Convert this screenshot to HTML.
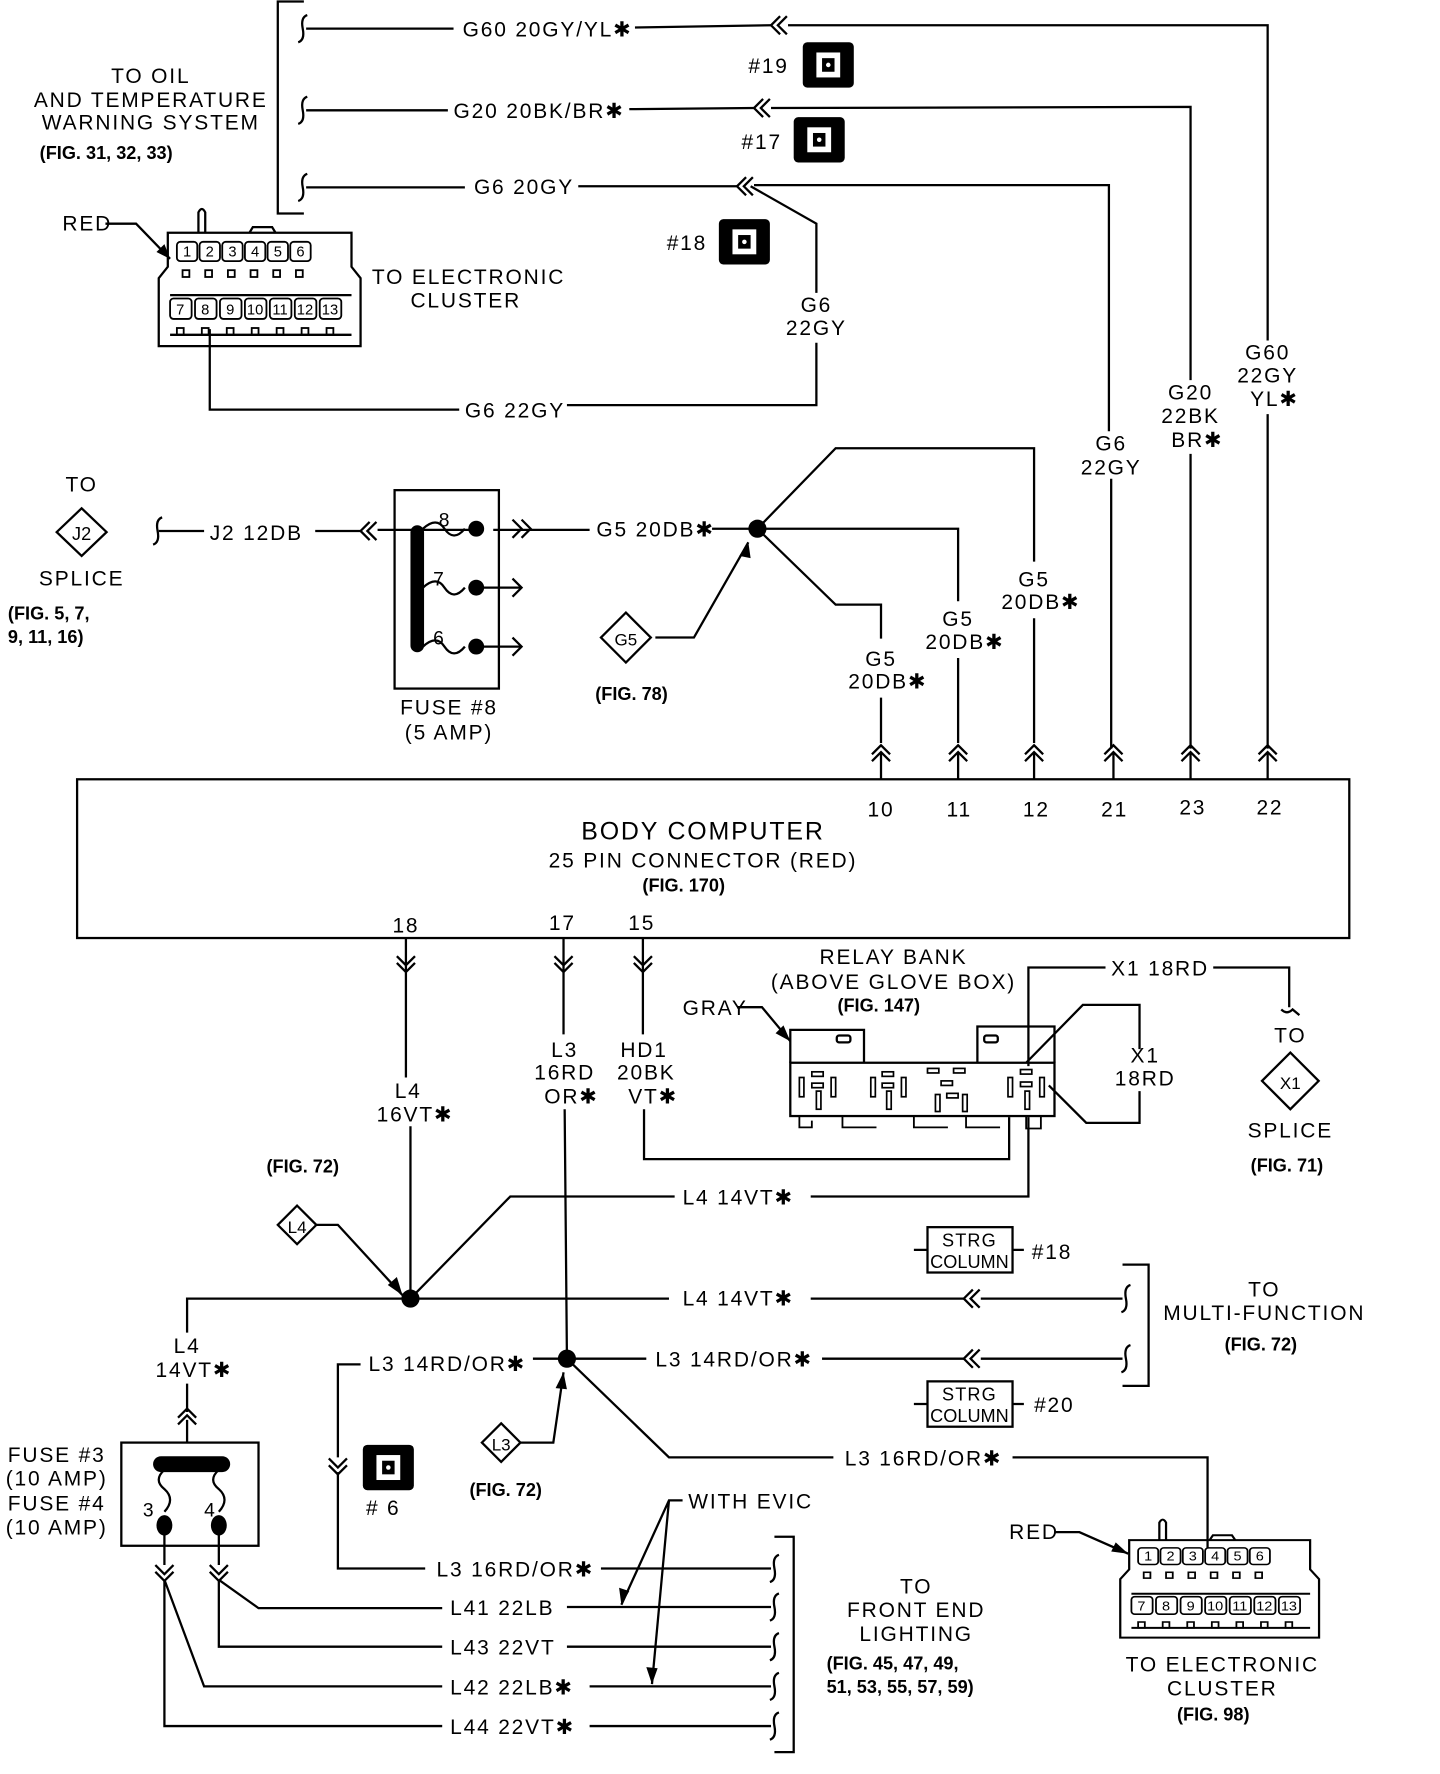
<!DOCTYPE html>
<html><head><meta charset="utf-8"><style>
html,body{margin:0;padding:0;background:#fff;}
svg{display:block;}
.t{font-family:"Liberation Sans Narrow","Liberation Sans",sans-serif;font-size:18.5px;letter-spacing:1.6px;fill:#000;}
.b{font-family:"Liberation Sans",sans-serif;font-size:16px;font-weight:bold;fill:#000;}
.s{font-family:"Liberation Sans Narrow","Liberation Sans",sans-serif;font-size:13px;fill:#000;}
</style></head><body>
<svg width="1440" height="1774" viewBox="0 0 1270 1564" xmlns="http://www.w3.org/2000/svg">
<defs>
<path id="cl" d="M8,-8 L0,0 L8,8 M14,-8 L6,0 L14,8" fill="none" stroke="#000" stroke-width="2"/>
<path id="cr" d="M-8,-8 L0,0 L-8,8 M-14,-8 L-6,0 L-14,8" fill="none" stroke="#000" stroke-width="2"/>
<path id="cu" d="M-8,8 L0,0 L8,8 M-8,14 L0,6 L8,14" fill="none" stroke="#000" stroke-width="2"/>
<path id="cd" d="M-8,-8 L0,0 L8,-8 M-8,-14 L0,-6 L8,-14" fill="none" stroke="#000" stroke-width="2"/>
<path id="sq" d="M4,-12 Q-2,-10 0,0 Q2,10 -4,12" fill="none" stroke="#000" stroke-width="2"/>
<g id="ico"><rect x="0" y="0" width="45" height="40" rx="4" fill="#000"/><rect x="12" y="9" width="21" height="22" fill="#fff"/><rect x="17" y="14" width="11" height="12" fill="#000"/><circle cx="22.5" cy="20" r="2" fill="#fff"/></g>
<g id="clu" fill="none" stroke="#000" stroke-width="2">
<path d="M0,100 L0,40 L8,30 L8,0 L170,0 L170,30 L178,40 L178,100 Z"/>
<path d="M35,0 L35,-18 Q38,-24 41,-18 L41,0"/>
<path d="M80,0 L83,-5 L100,-5 L103,0"/>
<path d="M10,55 L170,55 M10,90 L170,90"/>
<g stroke-width="1.6">
<rect x="16" y="8" width="18" height="17" rx="3"/><rect x="36" y="8" width="18" height="17" rx="3"/><rect x="56" y="8" width="18" height="17" rx="3"/><rect x="76" y="8" width="18" height="17" rx="3"/><rect x="96" y="8" width="18" height="17" rx="3"/><rect x="116" y="8" width="18" height="17" rx="3"/>
<rect x="10" y="58" width="19" height="18" rx="3"/><rect x="32" y="58" width="19" height="18" rx="3"/><rect x="54" y="58" width="19" height="18" rx="3"/><rect x="76" y="58" width="19" height="18" rx="3"/><rect x="98" y="58" width="19" height="18" rx="3"/><rect x="120" y="58" width="19" height="18" rx="3"/><rect x="142" y="58" width="19" height="18" rx="3"/>
<rect x="21" y="33" width="6" height="6"/><rect x="41" y="33" width="6" height="6"/><rect x="61" y="33" width="6" height="6"/><rect x="81" y="33" width="6" height="6"/><rect x="101" y="33" width="6" height="6"/><rect x="121" y="33" width="6" height="6"/>
<rect x="16" y="84" width="6" height="6"/><rect x="38" y="84" width="6" height="6"/><rect x="60" y="84" width="6" height="6"/><rect x="82" y="84" width="6" height="6"/><rect x="104" y="84" width="6" height="6"/><rect x="126" y="84" width="6" height="6"/><rect x="148" y="84" width="6" height="6"/>
</g>
<g class="s" stroke="none" fill="#000" text-anchor="middle" font-size="12">
<text x="25" y="21">1</text><text x="45" y="21">2</text><text x="65" y="21">3</text><text x="85" y="21">4</text><text x="105" y="21">5</text><text x="125" y="21">6</text>
<text x="19" y="72">7</text><text x="41" y="72">8</text><text x="63" y="72">9</text><text x="85" y="72">10</text><text x="107" y="72">11</text><text x="129" y="72">12</text><text x="151" y="72">13</text>
</g>
</g>
</defs>

<g fill="none" stroke="#000" stroke-width="2">
<path d="M268,1 L245,1 L245,188 L268,188"/>
<path d="M270,25 L400,25 M560,24 L680,22 M695,22 L1118,22 L1118,300 M1118,365 L1118,660"/>
<path d="M270,97 L395,97 M555,96 L665,95 M680,95 L1050,94 L1050,335 M1050,400 L1050,660"/>
<path d="M270,165 L410,165 M510,164 L650,164 M665,163 L978,163 L978,380 M980,422 L980,660"/>
<path d="M662,164 L720,197 L720,258 M720,302 L720,357 L500,357 M405,361 L185,361 L185,290"/>
<path d="M93,197 L120,197 L150,228"/>
<path d="M140,468 L180,468 M278,468 L318,468 M333,467 L420,467 M435,467 L520,467 M628,466 L668,466"/>
<rect x="348" y="432" width="92" height="175"/>
<path d="M420,518 L460,518 M420,570 L460,570"/>
<path d="M452,458 L460,466 L452,474 M460,458 L468,466 L460,474 M452,510 L460,518 L452,526 M452,562 L460,570 L452,578"/>
<path d="M373,466 Q385,455 392,466 Q400,478 410,466 M373,518 Q385,507 392,518 Q400,530 410,518 M373,570 Q385,559 392,570 Q400,582 410,570"/>
<path d="M668,466 L737,395 L912,395 L912,495 M912,545 L912,655"/>
<path d="M668,466 L845,466 L845,530 M845,580 L845,655"/>
<path d="M668,466 L737,533 L777,533 L777,563 M777,615 L777,655"/>
<path d="M578,562 L612,562 L660,478"/>
<path d="M777,663 L777,687 M845,663 L845,687 M912,663 L912,687 M982,663 L982,687 M1050,663 L1050,687 M1118,663 L1118,687"/>
<rect x="68" y="687" width="1122" height="140"/>
<path d="M358,827 L358,950 M362,993 L362,1145"/>
<path d="M497,827 L497,912 M498,978 L500,1198"/>
<path d="M567,827 L567,912 M568,978 L568,1022 L890,1022 L890,985"/>
<path d="M697,937 L697,908 L762,908 L762,937 M862,937 L862,905 L930,905 L930,937"/>
<rect x="697" y="937" width="233" height="47"/>
<rect x="738" y="913" width="12" height="6" rx="2"/><rect x="868" y="913" width="12" height="6" rx="2"/>
<path d="M705,984 L705,994 L716,994 L716,988 M743,984 L743,994 L773,994 M806,984 L806,994 L836,994 M852,984 L852,994 L882,994 M905,984 L905,995 L918,995 L918,984" stroke-width="1.6"/>
<g stroke-width="1.5">
<rect x="705" y="950" width="4" height="17"/><rect x="716" y="945" width="10" height="4"/><rect x="716" y="955" width="10" height="4"/><rect x="720" y="962" width="4" height="16"/><rect x="733" y="950" width="4" height="17"/>
<rect x="768" y="950" width="4" height="17"/><rect x="778" y="945" width="10" height="4"/><rect x="778" y="955" width="10" height="4"/><rect x="782" y="962" width="4" height="16"/><rect x="795" y="950" width="4" height="17"/>
<rect x="818" y="942" width="10" height="4"/><rect x="841" y="942" width="10" height="4"/><rect x="830" y="953" width="10" height="4"/><rect x="825" y="965" width="4" height="15"/><rect x="835" y="964" width="10" height="4"/><rect x="849" y="965" width="4" height="15"/>
<rect x="900" y="943" width="10" height="4"/><rect x="889" y="950" width="4" height="17"/><rect x="900" y="954" width="10" height="4"/><rect x="904" y="962" width="4" height="16"/><rect x="917" y="950" width="4" height="17"/>
</g>
<path d="M650,888 L672,888 L697,918"/>
<path d="M907,940 L907,853 L975,853 M1070,853 L1137,853 L1137,888"/>
<path d="M905,937 L955,886 L1005,886 L1005,925 M1005,962 L1005,990 L958,990 L925,957"/>
<path d="M907,985 L907,1055 L715,1055 M595,1055 L450,1055 L362,1145"/>
<path d="M1130,890 Q1135,895 1140,890 L1146,895"/>
<path d="M1138,928 L1163,953 L1138,978 L1113,953 Z"/>
<path d="M262,1063 L279,1080 L262,1097 L245,1080 Z M279,1080 L298,1080 L355,1142"/>
<path d="M165,1175 L165,1145 L590,1145 M715,1145 L850,1145 M865,1145 L990,1145"/>
<rect x="818" y="1082" width="75" height="40"/><path d="M806,1102 L818,1102 M893,1102 L903,1102"/>
<path d="M990,1115 L1013,1115 L1013,1222 L990,1222"/>
<path d="M470,1198 L510,1198 M510,1198 L570,1198 M725,1198 L850,1198 M865,1198 L990,1198"/>
<rect x="818" y="1218" width="75" height="40"/><path d="M806,1238 L818,1238 M893,1238 L903,1238"/>
<path d="M318,1203 L298,1203 L298,1285 M298,1298 L298,1383 L375,1383 M530,1383 L680,1383"/>
<path d="M442,1255 L459,1272 L442,1289 L425,1272 Z M459,1272 L488,1272 L497,1210"/>
<path d="M500,1198 L590,1285 L735,1285 M893,1285 L1065,1285 L1065,1365"/>
<path d="M165,1220 L165,1245 M165,1252 L165,1272"/>
<rect x="107" y="1272" width="121" height="91"/>
<path d="M145,1296 Q135,1305 145,1313 Q155,1322 145,1333 M193,1296 Q183,1305 193,1313 Q203,1322 193,1333"/>
<path d="M145,1345 L145,1380 M193,1345 L193,1380"/>
<path d="M193,1393 L228,1418 L390,1418 M500,1417 L680,1417"/>
<path d="M193,1393 L193,1452 L390,1452 M500,1452 L680,1452"/>
<path d="M145,1393 L180,1487 L390,1487 M520,1487 L680,1487"/>
<path d="M145,1393 L145,1522 L390,1522 M520,1522 L680,1522"/>
<path d="M683,1355 L700,1355 L700,1545 L683,1545"/>
<path d="M602,1323 L590,1323 L548,1415 M590,1323 L575,1485"/>
<path d="M930,1351 L952,1351 L995,1370"/>
</g>
<g fill="#000">
<path d="M150,228 L138,222 L145,215 Z"/>
<path d="M660,478 L652,490 L662,492 Z"/>
<path d="M697,918 L684,911 L691,904 Z"/>
<path d="M355,1142 L342,1133 L350,1126 Z"/>
<path d="M497,1210 L490,1224 L500,1225 Z"/>
<path d="M548,1415 L546,1400 L555,1403 Z"/>
<path d="M575,1485 L570,1470 L580,1471 Z"/>
<path d="M995,1370 L980,1368 L984,1360 Z"/>
<circle cx="420" cy="466" r="7"/><circle cx="420" cy="518" r="7"/><circle cx="420" cy="570" r="7"/>
<circle cx="668" cy="466" r="8"/><circle cx="362" cy="1145" r="8"/><circle cx="500" cy="1198" r="8"/>
<rect x="362" y="463" width="12" height="112" rx="6"/>
<rect x="135" y="1284" width="68" height="14" rx="7"/>
<ellipse cx="145" cy="1345" rx="7" ry="9"/><ellipse cx="193" cy="1345" rx="7" ry="9"/>
</g>
<use href="#cl" x="680" y="22"/><use href="#cl" x="665" y="95"/><use href="#cl" x="650" y="164"/>
<use href="#cl" x="318" y="468"/>
<use href="#cu" x="777" y="657"/><use href="#cu" x="845" y="657"/><use href="#cu" x="912" y="657"/><use href="#cu" x="982" y="657"/><use href="#cu" x="1050" y="657"/><use href="#cu" x="1118" y="657"/>
<use href="#cd" x="358" y="857"/><use href="#cd" x="497" y="857"/><use href="#cd" x="567" y="857"/>
<use href="#cl" x="850" y="1145"/><use href="#cl" x="850" y="1198"/>
<use href="#cd" x="298" y="1300"/>
<use href="#cu" x="165" y="1242"/>
<use href="#cd" x="145" y="1394"/><use href="#cd" x="193" y="1394"/>
<use href="#sq" x="267" y="25"/><use href="#sq" x="267" y="97"/><use href="#sq" x="267" y="165"/>
<use href="#sq" x="139" y="468"/>
<use href="#sq" x="993" y="1145"/><use href="#sq" x="993" y="1198"/>
<use href="#sq" x="683" y="1383"/><use href="#sq" x="683" y="1417"/><use href="#sq" x="683" y="1452"/><use href="#sq" x="683" y="1487"/><use href="#sq" x="683" y="1522"/>
<use href="#ico" x="708" y="37"/><use href="#ico" x="700" y="103"/><use href="#ico" x="634" y="193"/><use href="#ico" x="320" y="1274"/>
<use href="#clu" x="140" y="205"/>
<g transform="translate(988,1358) scale(0.985,0.86)"><use href="#clu" x="0" y="0"/></g>
<path d="M72,448 L94,469 L72,490 L50,469 Z" fill="none" stroke="#000" stroke-width="2"/>
<path d="M552,540 L574,562 L552,584 L530,562 Z" fill="none" stroke="#000" stroke-width="2"/>

<g class="t">
<text x="408" y="32">G60 20GY/YL✱</text>
<text x="400" y="104">G20 20BK/BR✱</text>
<text x="418" y="171">G6 20GY</text>
<text x="660" y="64">#19</text><text x="654" y="131">#17</text><text x="588" y="220">#18</text>
<text x="720" y="275" text-anchor="middle">G6</text><text x="720" y="295" text-anchor="middle">22GY</text>
<text x="410" y="368">G6 22GY</text>
<text x="980" y="397" text-anchor="middle">G6</text><text x="980" y="418" text-anchor="middle">22GY</text>
<text x="1050" y="352" text-anchor="middle">G20</text><text x="1050" y="373" text-anchor="middle">22BK</text><text x="1056" y="394" text-anchor="middle">BR✱</text>
<text x="1118" y="317" text-anchor="middle">G60</text><text x="1118" y="337" text-anchor="middle">22GY</text><text x="1124" y="358" text-anchor="middle">YL✱</text>
<text x="133" y="73" text-anchor="middle">TO OIL</text><text x="133" y="94" text-anchor="middle">AND TEMPERATURE</text><text x="133" y="114" text-anchor="middle">WARNING SYSTEM</text>
<text x="55" y="203">RED</text>
<text x="328" y="250">TO ELECTRONIC</text><text x="362" y="271">CLUSTER</text>
<text x="72" y="433" text-anchor="middle">TO</text>
<text x="72" y="476" text-anchor="middle" font-size="16" letter-spacing="0">J2</text>
<text x="72" y="516" text-anchor="middle">SPLICE</text>
<text x="185" y="476">J2 12DB</text>
<text x="526" y="473">G5 20DB✱</text>
<text x="387" y="464" font-size="17">8</text><text x="382" y="516" font-size="17">7</text><text x="382" y="568" font-size="17">6</text>
<text x="396" y="630" text-anchor="middle">FUSE #8</text><text x="396" y="652" text-anchor="middle">(5 AMP)</text>
<text x="552" y="569" text-anchor="middle" font-size="15" letter-spacing="0">G5</text>
<text x="912" y="517" text-anchor="middle">G5</text><text x="918" y="537" text-anchor="middle">20DB✱</text>
<text x="845" y="552" text-anchor="middle">G5</text><text x="851" y="572" text-anchor="middle">20DB✱</text>
<text x="777" y="587" text-anchor="middle">G5</text><text x="783" y="607" text-anchor="middle">20DB✱</text>
<text x="777" y="720" text-anchor="middle">10</text><text x="846" y="720" text-anchor="middle">11</text><text x="914" y="720" text-anchor="middle">12</text><text x="983" y="720" text-anchor="middle">21</text><text x="1052" y="718" text-anchor="middle">23</text><text x="1120" y="718" text-anchor="middle">22</text>
<text x="620" y="740" text-anchor="middle" font-size="22">BODY COMPUTER</text>
<text x="620" y="765" text-anchor="middle">25 PIN CONNECTOR (RED)</text>
<text x="358" y="822" text-anchor="middle">18</text><text x="496" y="820" text-anchor="middle">17</text><text x="566" y="820" text-anchor="middle">15</text>
<text x="788" y="850" text-anchor="middle">RELAY BANK</text><text x="788" y="872" text-anchor="middle">(ABOVE GLOVE BOX)</text>
<text x="602" y="895">GRAY</text>
<text x="980" y="860">X1 18RD</text>
<text x="1010" y="937" text-anchor="middle">X1</text><text x="1010" y="957" text-anchor="middle">18RD</text>
<text x="1138" y="919" text-anchor="middle">TO</text>
<text x="1138" y="960" text-anchor="middle" font-size="15" letter-spacing="0">X1</text>
<text x="1138" y="1003" text-anchor="middle">SPLICE</text>
<text x="360" y="968" text-anchor="middle">L4</text><text x="366" y="989" text-anchor="middle">16VT✱</text>
<text x="498" y="932" text-anchor="middle">L3</text><text x="498" y="952" text-anchor="middle">16RD</text><text x="504" y="973" text-anchor="middle">OR✱</text>
<text x="568" y="932" text-anchor="middle">HD1</text><text x="570" y="952" text-anchor="middle">20BK</text><text x="576" y="973" text-anchor="middle">VT✱</text>
<text x="602" y="1062">L4 14VT✱</text>
<text x="262" y="1087" text-anchor="middle" font-size="15" letter-spacing="0">L4</text>
<text x="602" y="1151">L4 14VT✱</text>
<text x="855" y="1099" text-anchor="middle" font-size="16" letter-spacing="1">STRG</text><text x="855" y="1118" text-anchor="middle" font-size="16" letter-spacing="0">COLUMN</text>
<text x="910" y="1110">#18</text>
<text x="1115" y="1143" text-anchor="middle">TO</text><text x="1115" y="1164" text-anchor="middle">MULTI-FUNCTION</text>
<text x="578" y="1205">L3 14RD/OR✱</text>
<text x="325" y="1209">L3 14RD/OR✱</text>
<text x="855" y="1235" text-anchor="middle" font-size="16" letter-spacing="1">STRG</text><text x="855" y="1254" text-anchor="middle" font-size="16" letter-spacing="0">COLUMN</text>
<text x="912" y="1245">#20</text>
<text x="442" y="1279" text-anchor="middle" font-size="15" letter-spacing="0">L3</text>
<text x="745" y="1292">L3 16RD/OR✱</text>
<text x="338" y="1336" text-anchor="middle"># 6</text>
<text x="165" y="1193" text-anchor="middle">L4</text><text x="171" y="1214" text-anchor="middle">14VT✱</text>
<text x="50" y="1289" text-anchor="middle">FUSE #3</text><text x="50" y="1310" text-anchor="middle">(10 AMP)</text><text x="50" y="1332" text-anchor="middle">FUSE #4</text><text x="50" y="1353" text-anchor="middle">(10 AMP)</text>
<text x="126" y="1337" font-size="17">3</text><text x="180" y="1337" font-size="17">4</text>
<text x="385" y="1390">L3 16RD/OR✱</text>
<text x="397" y="1424">L41 22LB</text>
<text x="397" y="1459">L43 22VT</text>
<text x="397" y="1494">L42 22LB✱</text>
<text x="397" y="1529">L44 22VT✱</text>
<text x="607" y="1330">WITH EVIC</text>
<text x="808" y="1405" text-anchor="middle">TO</text><text x="808" y="1426" text-anchor="middle">FRONT END</text><text x="808" y="1447" text-anchor="middle">LIGHTING</text>
<text x="890" y="1357">RED</text>
<text x="1078" y="1474" text-anchor="middle">TO ELECTRONIC</text><text x="1078" y="1495" text-anchor="middle">CLUSTER</text>
</g>
<g class="b">
<text x="35" y="140">(FIG. 31, 32, 33)</text>
<text x="7" y="546">(FIG. 5, 7,</text><text x="7" y="567">9, 11, 16)</text>
<text x="525" y="617">(FIG. 78)</text>
<text x="603" y="786" text-anchor="middle">(FIG. 170)</text>
<text x="775" y="892" text-anchor="middle">(FIG. 147)</text>
<text x="1135" y="1033" text-anchor="middle">(FIG. 71)</text>
<text x="267" y="1034" text-anchor="middle">(FIG. 72)</text>
<text x="1112" y="1191" text-anchor="middle">(FIG. 72)</text>
<text x="446" y="1319" text-anchor="middle">(FIG. 72)</text>
<text x="729" y="1472">(FIG. 45, 47, 49,</text>
<text x="729" y="1493">51, 53, 55, 57, 59)</text>
<text x="1070" y="1517" text-anchor="middle">(FIG. 98)</text>
</g>
</svg>
</body></html>
